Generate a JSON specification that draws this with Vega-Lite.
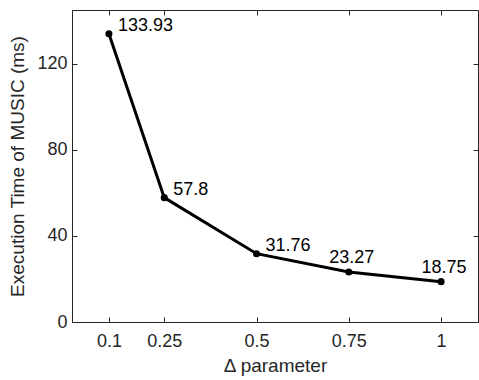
{
  "$schema": "https://vega.github.io/schema/vega-lite/v6.json",
  "width": 406,
  "height": 312,
  "autosize": {"type": "none"},
  "padding": {"left": 72, "top": 10, "right": 1, "bottom": 58},
  "background": "white",
  "config": {
    "font": "Liberation Sans",
    "view": {"stroke": "#262626", "strokeWidth": 1},
    "axis": {
      "domainColor": "#262626",
      "tickColor": "#262626",
      "labelColor": "#262626",
      "titleColor": "#262626",
      "labelFont": "Liberation Sans",
      "titleFont": "Liberation Sans",
      "labelFontSize": 18,
      "titleFontSize": 19,
      "titleFontWeight": "normal",
      "grid": false,
      "tickSize": -5
    }
  },
  "data": {
    "values": [
      {"delta": 0.1, "time": 133.93, "label": "133.93"},
      {"delta": 0.25, "time": 57.8, "label": "57.8"},
      {"delta": 0.5, "time": 31.76, "label": "31.76"},
      {"delta": 0.75, "time": 23.27, "label": "23.27"},
      {"delta": 1, "time": 18.75, "label": "18.75"}
    ]
  },
  "layer": [
    {
      "mark": {"type": "line", "color": "black", "strokeWidth": 3},
      "encoding": {
        "x": {
          "field": "delta", "type": "quantitative",
          "scale": {"domain": [0, 1.1], "nice": false, "zero": false},
          "axis": {"orient": "bottom", "values": [0.1, 0.25, 0.5, 0.75, 1], "title": "Δ parameter", "labelPadding": 15, "titleY": 34, "labelExpr": "datum.value == 1 ? '1' : format(datum.value, '')"}
        },
        "y": {
          "field": "time", "type": "quantitative",
          "scale": {"domain": [0, 145], "nice": false},
          "axis": {"orient": "left", "values": [0, 40, 80, 120], "title": "Execution Time of MUSIC (ms)", "labelPadding": 10, "titleX": -45}
        }
      }
    },
    {
      "mark": {"type": "point", "filled": true, "color": "black", "size": 50, "opacity": 1},
      "encoding": {
        "x": {"field": "delta", "type": "quantitative", "axis": null},
        "y": {"field": "time", "type": "quantitative", "axis": null}
      }
    },
    {
      "transform": [{"filter": "datum.delta < 0.6"}],
      "mark": {"type": "text", "align": "left", "baseline": "middle", "dx": 9, "dy": -8, "fontSize": 18, "color": "black"},
      "encoding": {
        "x": {"field": "delta", "type": "quantitative", "axis": null},
        "y": {"field": "time", "type": "quantitative", "axis": null},
        "text": {"field": "label"}
      }
    },
    {
      "transform": [{"filter": "datum.delta > 0.6"}],
      "mark": {"type": "text", "align": "center", "baseline": "middle", "dx": 3, "dy": -14, "fontSize": 18, "color": "black"},
      "encoding": {
        "x": {"field": "delta", "type": "quantitative", "axis": null},
        "y": {"field": "time", "type": "quantitative", "axis": null},
        "text": {"field": "label"}
      }
    },
    {
      "mark": {"type": "point", "opacity": 0},
      "encoding": {
        "x": {"field": "delta", "type": "quantitative", "axis": {"orient": "top", "values": [0.1, 0.25, 0.5, 0.75, 1], "labels": false, "title": null, "domain": false}},
        "y": {"field": "time", "type": "quantitative", "axis": {"orient": "right", "values": [0, 40, 80, 120], "labels": false, "title": null, "domain": false}}
      }
    }
  ],
  "resolve": {"axis": {"x": "independent", "y": "independent"}}
}
